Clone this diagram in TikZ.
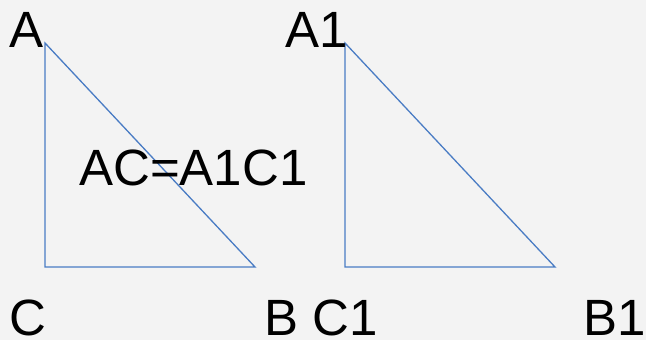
\documentclass[tikz,border=0pt]{standalone}
\usepackage{fontspec}
\setmainfont{Liberation Sans}
\usepackage{xcolor}
\usetikzlibrary{positioning}
\definecolor{edgeblue}{HTML}{4A7CC4}
\definecolor{bggray}{HTML}{F3F3F3}

\begin{document}
\begin{tikzpicture}[x=1pt, y=-1pt,
    side/.style={draw=edgeblue, line width=1.3pt, line join=miter},
    lbl/.style={inner sep=0pt, anchor=base west, font=\fontsize{51}{51}\selectfont}
  ]
  \fill[bggray] (0,0) rectangle (646,340);
  \useasboundingbox (0,0) rectangle (646,340);
  % Left triangle
  \coordinate (a) at (45,43);
  \coordinate (c) at (45,267);
  \coordinate (b) at (255,267);
  \draw[side] (a) -- (c) -- (b) -- cycle;
  % Right triangle
  \coordinate (a1) at (345,43);
  \coordinate (c1) at (345,267);
  \coordinate (b1) at (555,267);
  \draw[side] (a1) -- (c1) -- (b1) -- cycle;
  % Vertex labels
  \node[lbl] (la) at (9,47) {A};
  \node[lbl] (lc) at (9,335) {C};
  \node[lbl] (lb) at (264,335) {B};
  \node[lbl] (la1) at (285,47) {A1};
  \node[lbl] (lc1) at (312,335) {C1};
  \node[lbl] (lb1) at (583,335) {B1};
  % Equality
  \node[lbl] (eq) at (79,185) {AC=A1C1};
\end{tikzpicture}
\end{document}
